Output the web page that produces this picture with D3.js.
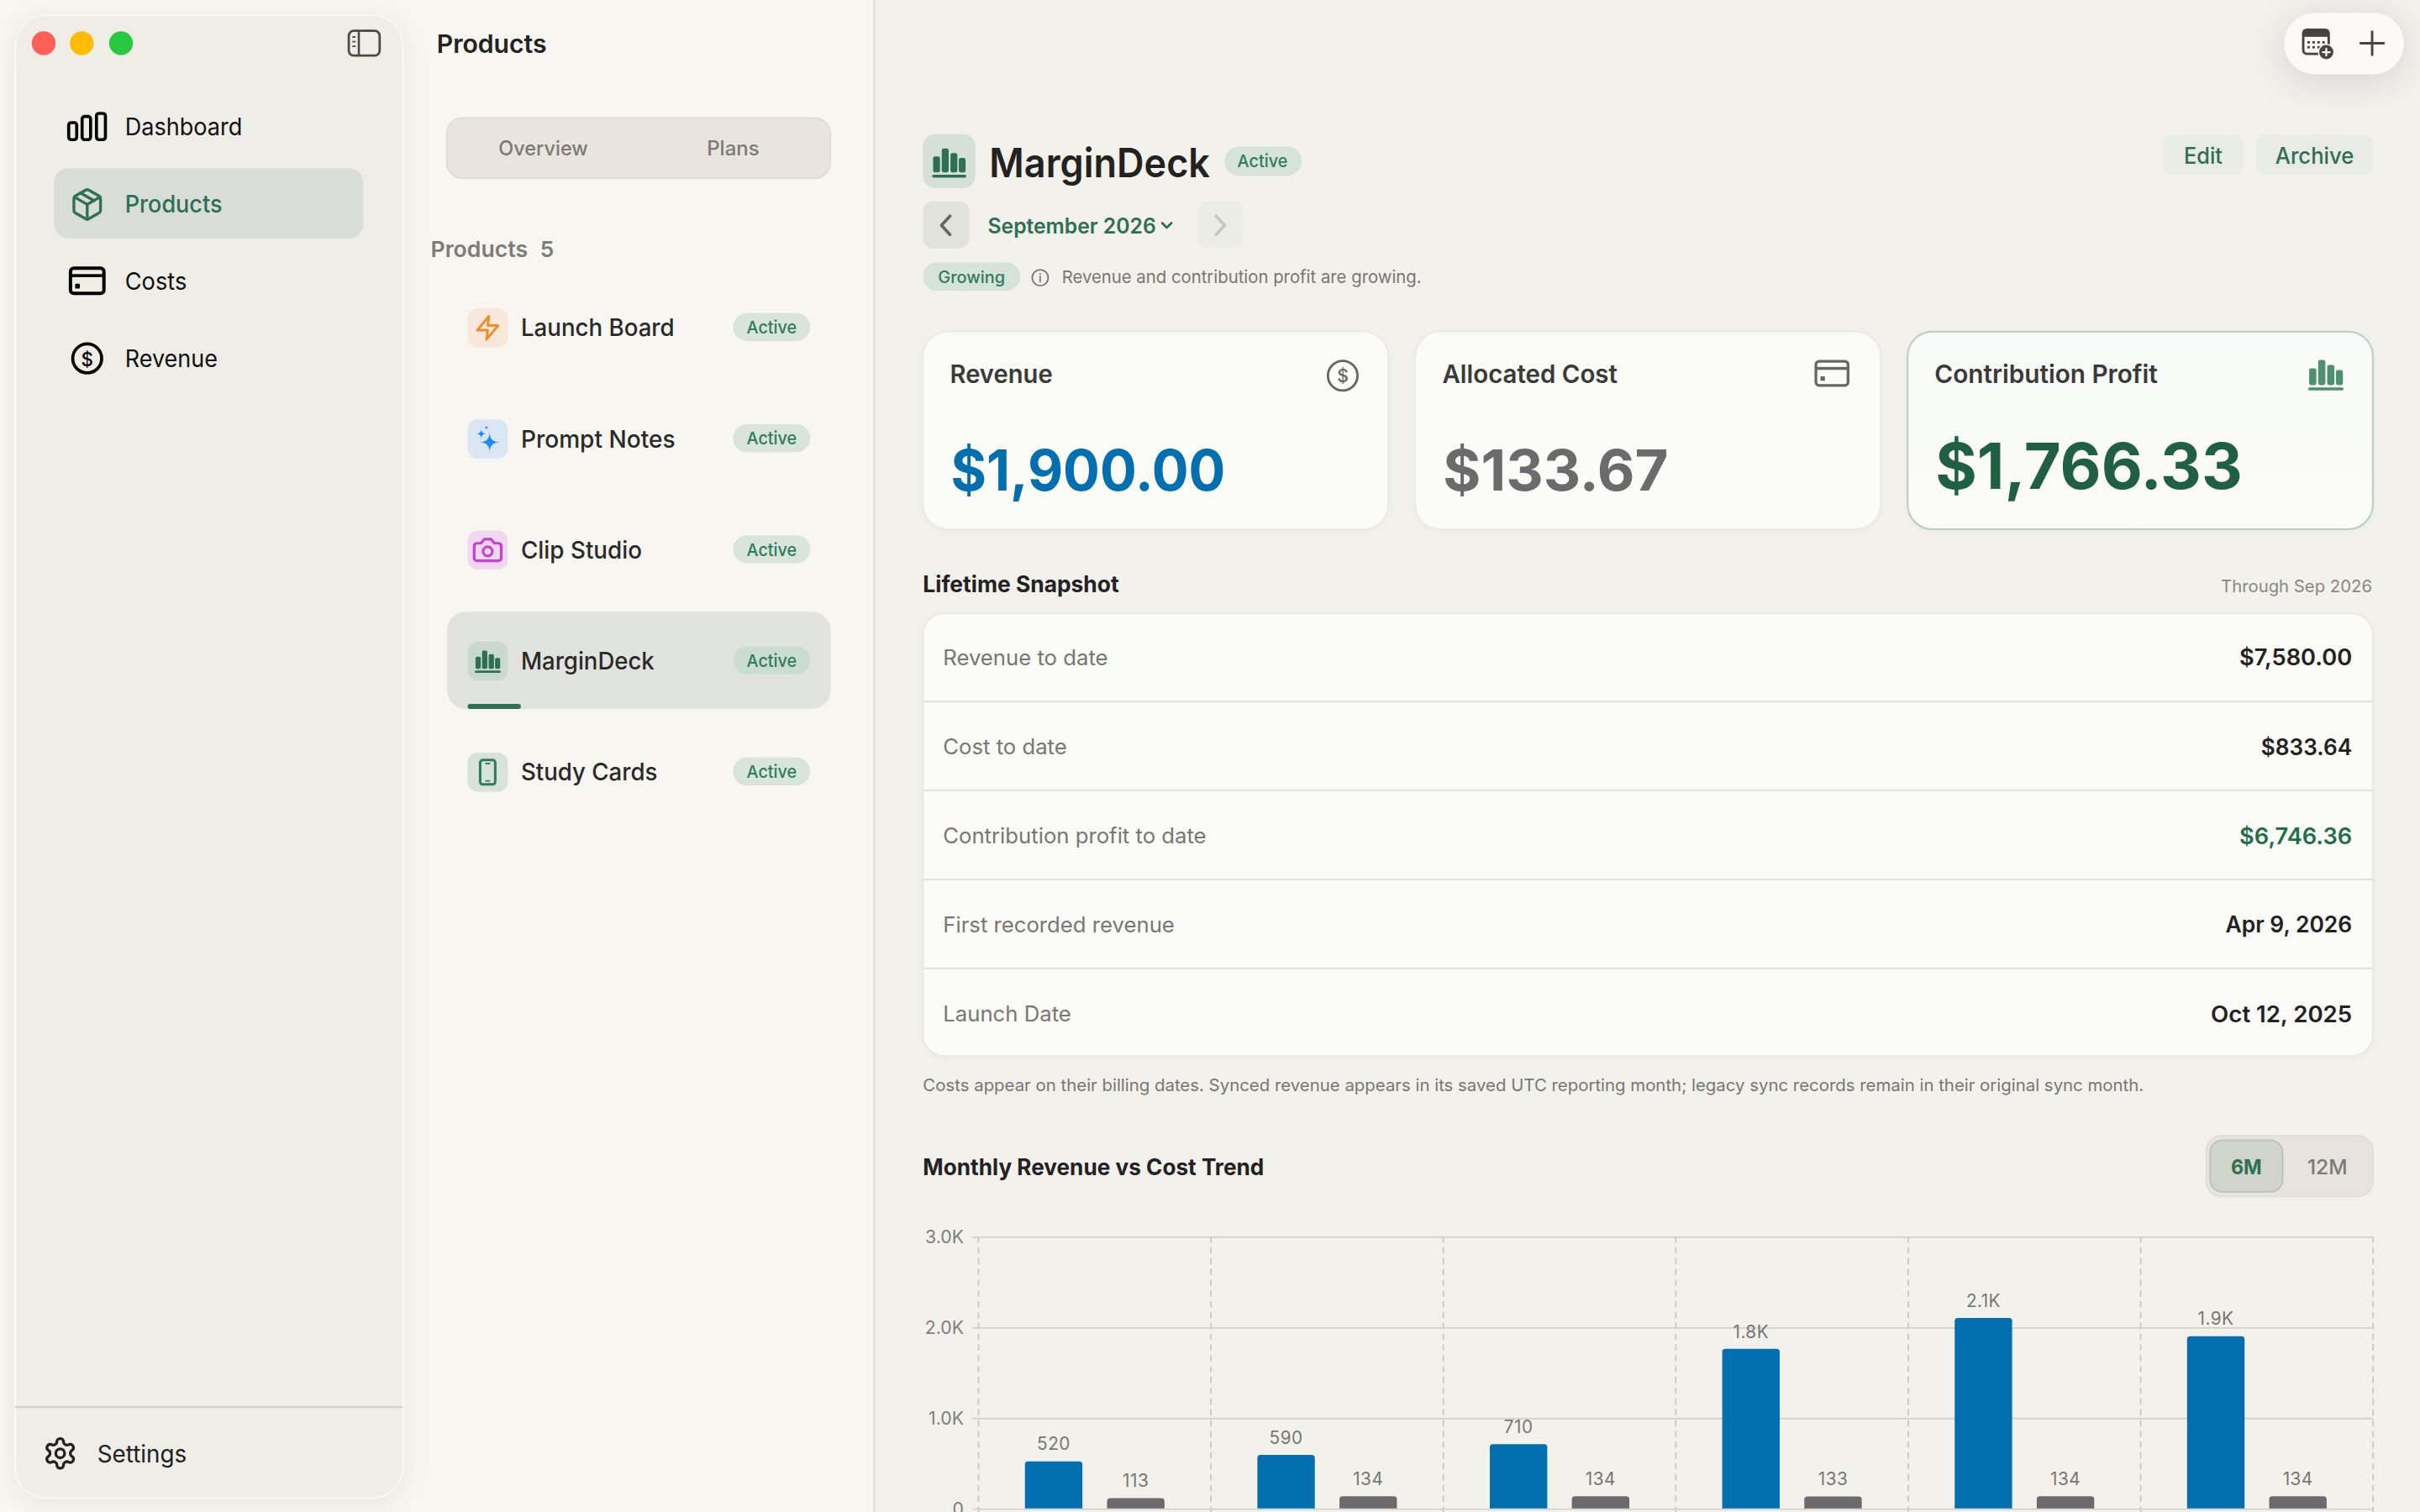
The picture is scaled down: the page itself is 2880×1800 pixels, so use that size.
<!DOCTYPE html>
<html><head><meta charset="utf-8">
<style>html,body{margin:0;padding:0;background:#f7f6f0;overflow:hidden}svg{display:block}text{font-family:Inter,"Noto Sans",sans-serif}</style>
<script src="https://cdn.jsdelivr.net/npm/d3@7"></script>
</head><body>
<script>
// ---- chart data ----
const months = ["Apr","May","Jun","Jul","Aug","Sep"];
const seriesNames = ["Revenue","Cost"];
const revenue = [520,590,710,1760,2100,1900];
const cost = [113,134,134,133,134,134];
const yTicks = [0,1000,2000,3000];
// ---- page text ----
const navItems = ["Dashboard","Products","Costs","Revenue"];
const navWidths = [76,63,40,60];
const products = ["Launch Board","Prompt Notes","Clip Studio","MarginDeck","Study Cards"];
const productWidths = [99.5,100,78.5,86.5,88.5];
const snapshotLabels = ["Revenue to date","Cost to date","Contribution profit to date","First recorded revenue","Launch Date"];
const snapshotValues = ["$7,580.00","$833.64","$6,746.36","Apr 9, 2026","Oct 12, 2025"];
const snapshotWidths = [73,59,73,82,91.5];
const cardTitles = ["Revenue","Allocated Cost","Contribution Profit"];
const cardValues = ["$1,900.00","$133.67","$1,766.33"];
const cardTitleWidths = [66.5,113.5,144.5];
const cardValueWidths = [178,146,199];

const C={rev:"#0270b0",cost:"#6b6b6d",green:"#2f6f52",greenT:"#2f7d5b",dark:"#222220",mut:"#777773"};
const svg=d3.select("body").append("svg").attr("width",2880).attr("height",1800).attr("viewBox","0 0 1568 980");
const defs=svg.append("defs");
function shadow(id,dy,sd,op){defs.append("filter").attr("id",id).attr("x","-40%").attr("y","-60%").attr("width","180%").attr("height","220%")
  .append("feDropShadow").attr("dx",0).attr("dy",dy).attr("stdDeviation",sd).attr("flood-color","#000").attr("flood-opacity",op);}
shadow("sideS",3,8,.07);shadow("toolS",4,12,.13);shadow("cardS",1,2,.03);
const g3=defs.append("linearGradient").attr("id","g3").attr("x1",0).attr("x2",0).attr("y1",0).attr("y2",1);
g3.append("stop").attr("offset","0").attr("stop-color","#f8fbf9");g3.append("stop").attr("offset","1").attr("stop-color","#fbfbf8");

function r(x,y,w,h,rx,fill,stroke,sw){const e=svg.append("rect").attr("x",x).attr("y",y).attr("width",w).attr("height",h).attr("rx",rx).attr("fill",fill);
  if(stroke)e.attr("stroke",stroke).attr("stroke-width",sw||1);return e;}
function t(x,y,s,size,weight,fill,anchor,w){const e=svg.append("text").attr("x",x).attr("y",y).attr("dominant-baseline","central").attr("font-size",size).attr("font-weight",weight).attr("fill",fill).attr("text-anchor",anchor||"start").text(s);
  if(w)e.attr("textLength",w).attr("lengthAdjust","spacingAndGlyphs");return e;}
function ic(cx,cy,size,fn){const g=svg.append("g").attr("transform",`translate(${cx-size/2},${cy-size/2}) scale(${size/24})`);fn(g);return g;}
const P=(g,d,col,sw)=>g.append("path").attr("d",d).attr("fill","none").attr("stroke",col).attr("stroke-width",sw).attr("stroke-linecap","round").attr("stroke-linejoin","round");
const F=(g,d,col)=>g.append("path").attr("d",d).attr("fill",col);
const star=(x,y,a)=>`M${x},${y-a}Q${x},${y} ${x+a},${y}Q${x},${y} ${x},${y+a}Q${x},${y} ${x-a},${y}Q${x},${y} ${x},${y-a}Z`;
function barsIcon(col){return g=>{[[2,9,4.3],[7.4,4,4.3],[12.8,7,4.3],[18,10,4.2]].forEach(b=>g.append("rect").attr("x",b[0]).attr("y",b[1]).attr("width",b[2]).attr("height",19-b[1]).attr("rx",1.2).attr("fill",col));
  g.append("rect").attr("x",1.4).attr("y",20.4).attr("width",21.2).attr("height",1.8).attr("rx",.9).attr("fill",col);}}
function cardIcon(col,sw){return g=>{g.append("rect").attr("x",2).attr("y",4.5).attr("width",20).attr("height",15).attr("rx",2).attr("fill","none").attr("stroke",col).attr("stroke-width",sw);
  g.append("rect").attr("x",2).attr("y",8).attr("width",20).attr("height",1.8).attr("fill",col);g.append("rect").attr("x",4.8).attr("y",13.8).attr("width",2.8).attr("height",2.8).attr("rx",.4).attr("fill",col);}}
function dollarIcon(col,sw,fs){return g=>{g.append("circle").attr("cx",12).attr("cy",12).attr("r",10).attr("fill","none").attr("stroke",col).attr("stroke-width",sw);
  g.append("text").attr("x",12).attr("y",12.3).attr("text-anchor","middle").attr("dominant-baseline","central").attr("font-size",fs).attr("font-weight",500).attr("fill",col).text("$");}}

// ---- background & panels ----
r(0,0,1568,980,0,"#f7f6f0");
r(10,10,251,961,20,"#eeede6","#f8f8f3",1).attr("filter","url(#sideS)");
svg.append("line").attr("x1",10).attr("x2",261).attr("y1",912).attr("y2",912).attr("stroke","#d3d3ce").attr("stroke-width",1.2);
r(566.5,0,1001.5,980,0,"#f2f1ec");
svg.append("line").attr("x1",566.5).attr("x2",566.5).attr("y1",0).attr("y2",980).attr("stroke","#dcdbd6").attr("stroke-width",1.2);

// traffic lights
[["#ff5f57",28.3],["#febc00",53],["#28c840",78.4]].forEach(d=>svg.append("circle").attr("cx",d[1]).attr("cy",28).attr("r",7.7).attr("fill",d[0]));
// sidebar toggle
r(226,20,20,16,3.2,"none","#4a4a48",1.5);
svg.append("line").attr("x1",232.5).attr("x2",232.5).attr("y1",20).attr("y2",36).attr("stroke","#4a4a48").attr("stroke-width",1.4);
[24,27,30].forEach(y=>svg.append("line").attr("x1",228.3).attr("x2",230.4).attr("y1",y).attr("y2",y).attr("stroke","#4a4a48").attr("stroke-width",1));

// nav
r(35,109,200.5,45.5,9.5,"#d8ded7");
const navY=[82,132,182,232];
navItems.forEach((n,i)=>t(81,navY[i],n,15.6,i==1?450:420,i==1?C.green:"#111",null,navWidths[i]));
svg.append("g").call(g=>{[[44.5,79.5,5.2,11],[53.2,75.5,5.5,15],[62.5,73.5,5.8,17]].forEach(b=>g.append("rect").attr("x",b[0]).attr("y",b[1]).attr("width",b[2]).attr("height",b[3]).attr("rx",1.6).attr("fill","none").attr("stroke","#000").attr("stroke-width",2));});
ic(56.5,132.5,23,g=>{["M21 8a2 2 0 0 0-1-1.73l-7-4a2 2 0 0 0-2 0l-7 4A2 2 0 0 0 3 8v8a2 2 0 0 0 1 1.73l7 4a2 2 0 0 0 2 0l7-4A2 2 0 0 0 21 16Z","m3.3 7 8.7 5 8.7-5","M12 22V12","m7.5 4.27 9 5.15"].forEach(d=>P(g,d,C.green,1.9));});
ic(56.5,182,26,cardIcon("#000",2));
ic(56.5,232.3,22.5,dollarIcon("#000",2.2,13));
t(63,942.3,"Settings",15.4,420,"#222",null,58);
ic(39,942,23,g=>{P(g,"M12.22 2h-.44a2 2 0 0 0-2 2v.18a2 2 0 0 1-1 1.73l-.43.25a2 2 0 0 1-2 0l-.15-.08a2 2 0 0 0-2.73.73l-.22.38a2 2 0 0 0 .73 2.73l.15.1a2 2 0 0 1 1 1.72v.51a2 2 0 0 1-1 1.74l-.15.09a2 2 0 0 0-.73 2.73l.22.38a2 2 0 0 0 2.73.73l.15-.08a2 2 0 0 1 2 0l.43.25a2 2 0 0 1 1 1.73V20a2 2 0 0 0 2 2h.44a2 2 0 0 0 2-2v-.18a2 2 0 0 1 1-1.73l.43-.25a2 2 0 0 1 2 0l.15.08a2 2 0 0 0 2.73-.73l.22-.39a2 2 0 0 0-.73-2.73l-.15-.08a2 2 0 0 1-1-1.74v-.5a2 2 0 0 1 1-1.74l.15-.09a2 2 0 0 0 .73-2.73l-.22-.38a2 2 0 0 0-2.73-.73l-.15.08a2 2 0 0 1-2 0l-.43-.25a2 2 0 0 1-1-1.73V4a2 2 0 0 0-2-2z","#222",1.9);g.append("circle").attr("cx",12).attr("cy",12).attr("r",3).attr("fill","none").attr("stroke","#222").attr("stroke-width",1.9);});

// middle column
t(283,28.5,"Products",16.4,600,"#222");
r(289.5,76.5,248.5,39,10,"#e9e4dd","#e2ddd4",1);
t(352,96,"Overview",13,500,"#7a7a76","middle",58);
t(475,96,"Plans",13,500,"#7a7a76","middle",34);
t(279,161.5,"Products",14.3,600,"#7c7c78",null,63);
t(350,161.5,"5",14.3,600,"#7c7c78");

const itemY=[212.5,284.5,356.5,428.5,500.5];
r(289.7,396.5,248.5,63,12,"#e1e4de");
r(303,456.2,34.5,3.3,1.6,C.green);
const tileFill=["#f9e7d9","#dbe6f3","#f0d9ef","#c9d9cf","#d6e2da"];
const badgeFill=["#d9e4db","#d9e4db","#d9e4db","#cbdcd0","#d9e4db"];
products.forEach((p,i)=>{const y=itemY[i];
  r(303,y-12.7,26,25.4,6.5,tileFill[i]);
  t(337.5,y-.3,p,15.7,500,"#2a2a28",null,productWidths[i]);
  r(475,y-9.5,50,18,9,badgeFill[i]);
  t(500,y-.4,"Active",11.3,500,C.greenT,"middle",32.5);
});
ic(316,212.5,18,g=>P(g,"M13 2 3 14h9l-1 8 10-12h-9l1-8z","#f28c28",2.1));
ic(316,284.5,20,g=>{F(g,star(13.5,14.5,8),"#1a8cff");F(g,star(7,8,3.8),"#1a8cff");F(g,star(11,3.2,1.8),"#1a8cff");});
ic(316,356.5,21,g=>{P(g,"M14.5 4h-5L7 7H4a2 2 0 0 0-2 2v9a2 2 0 0 0 2 2h16a2 2 0 0 0 2-2V9a2 2 0 0 0-2-2h-3l-2.5-3z","#c93fd6",2);g.append("circle").attr("cx",12).attr("cy",13).attr("r",3.4).attr("fill","none").attr("stroke","#c93fd6").attr("stroke-width",2);});
ic(316,428,19,barsIcon(C.green));
ic(316,500.5,18,g=>{g.append("rect").attr("x",5.5).attr("y",1.5).attr("width",13).attr("height",21).attr("rx",2.2).attr("fill","none").attr("stroke",C.greenT).attr("stroke-width",2.2);P(g,"M10.5 4.5h3M10.5 19.5h3",C.greenT,1.4);});

// toolbar pill
r(1480,8.5,77.5,39.5,19.7,"#fbfaf6").attr("filter","url(#toolS)");
ic(1501.5,28,22,g=>{g.append("rect").attr("x",2).attr("y",2.5).attr("width",18).attr("height",17).attr("rx",2.5).attr("fill","none").attr("stroke","#444442").attr("stroke-width",1.7);
  g.append("rect").attr("x",2).attr("y",2.5).attr("width",18).attr("height",5).attr("fill","#444442");
  [5,8.5,12,15.5].forEach(x=>[10.5,14].forEach(y=>g.append("rect").attr("x",x).attr("y",y).attr("width",1.7).attr("height",1.7).attr("fill","#444442")));
  g.append("circle").attr("cx",18.3).attr("cy",18.3).attr("r",5.9).attr("fill","#fbfaf6");
  g.append("circle").attr("cx",18.3).attr("cy",18.3).attr("r",5).attr("fill","#444442");P(g,"M18.3 15.8v5M15.8 18.3h5","#fbfaf6",1.3);});
ic(1537,28,20,g=>P(g,"M12 3v18M3 12h18","#444442",1.9));

// product header
r(598,87,34,35,8,"#d5e0d8");
ic(615,104.5,25,barsIcon(C.green));
t(641,105.5,"MarginDeck",26,600,"#222220",null,143);
r(793.5,95,50,19,9.5,"#d5e3d9");
t(818,104.5,"Active",11.3,500,C.greenT,"middle",32.5);
r(1401.5,87,52,26.5,6.5,"#e9ebe5");
t(1427.5,100.5,"Edit",14.5,500,C.green,"middle",25);
r(1462,87,75.5,26.5,6.5,"#e9ebe5");
t(1499.7,100.5,"Archive",14.5,500,C.green,"middle",51);
r(598,130.5,30,30.5,6.5,"#e2e2dd");
P(svg.append("g"),"M615.5 140l-5.5 6 5.5 6","#666663",2);
t(640,146,"September 2026",13.8,600,C.green,null,109);
P(svg.append("g"),"M753 144.5l3 3 3-3",C.green,1.5);
r(776,130.5,29.5,30.5,6.5,"#ecece7");
P(svg.append("g"),"M788 140l5.5 6-5.5 6","#c6c6c1",2);
r(598,170,63,18.5,9.2,"#d5e3d9");
t(629.5,179.5,"Growing",11,500,C.greenT,"middle",43.5);
svg.append("circle").attr("cx",674).attr("cy",180).attr("r",5.2).attr("fill","none").attr("stroke","#777").attr("stroke-width",1);
t(674,180,"i",8,500,"#777","middle");
t(688,179.5,"Revenue and contribution profit are growing.",11.2,400,C.mut,null,233);

// metric cards
const cardX=[598,917,1236];
const cardCol=[C.rev,C.cost,"#1f5f43"];
cardX.forEach((x,i)=>{
  const e=r(x,215,301.5,128,16,i==2?"url(#g3)":"#fbfbf8",i==2?"#bdd0c5":"#ebebe6",i==2?1.2:1);e.attr("filter","url(#cardS)");
  t(x+17.5,242.5,cardTitles[i],16.4,600,"#3a3a38",null,cardTitleWidths[i]);
  t(x+18,i==2?302:304.5,cardValues[i],i==2?41:37,700,cardCol[i],null,cardValueWidths[i]);
});
ic(870,243.5,23,dollarIcon("#666",1.6,12));
ic(1187,242,25,cardIcon("#666",1.7));
ic(1507,242,26,barsIcon("#4f8f70"));

// lifetime snapshot
t(598,378.5,"Lifetime Snapshot",14.5,700,"#222",null,127);
t(1537,379.5,"Through Sep 2026",11,400,"#888884","end",98);
r(598,397.5,939.5,287,14,"#fbfbf8","#e8e8e3",1).attr("filter","url(#cardS)");
const rowY=[426,484,541.5,599,657];
const sepY=[454.7,512.3,570,627.7];
sepY.forEach(y=>svg.append("line").attr("x1",598).attr("x2",1537.5).attr("y1",y).attr("y2",y).attr("stroke","#e3e3de").attr("stroke-width",1.2));
snapshotLabels.forEach((s,i)=>{t(611,rowY[i],s,14,400,C.mut);
  t(1524,rowY[i],snapshotValues[i],14.5,600,i==2?"#1f6f4a":"#222","end",snapshotWidths[i]);});
t(598,703,"Costs appear on their billing dates. Synced revenue appears in its saved UTC reporting month; legacy sync records remain in their original sync month.",11,400,C.mut,null,791);

// trend header
t(598,756.5,"Monthly Revenue vs Cost Trend",14.5,700,"#222",null,221);
r(1429.5,736,108,39.5,10,"#e8e4dd","#e2ddd4",1);
r(1432,739,47,33.5,8,"#d0d4cb","#b8c4ba",1);
t(1455.5,756,"6M",13.5,700,C.green,"middle",20);
t(1508,756,"12M",13.5,500,"#7a7a76","middle",26);

// ---- chart ----
const x0=d3.scaleBand().domain(months).range([634,1537.6]);
const x1=d3.scaleBand().domain(seriesNames).range([0,x0.bandwidth()]).paddingInner(.3).paddingOuter(.566);
const y=d3.scaleLinear().domain([0,3000]).range([977.7,801.4]);
const fmt=v=>v>=1000?(v/1000).toFixed(1)+"K":String(v);
const chart=svg.append("g");
chart.append("g").selectAll("line").data(months.map(m=>x0(m)).concat([x0.range()[1]])).join("line")
  .attr("x1",d=>d).attr("x2",d=>d).attr("y1",y(3000)).attr("y2",y(0)+3)
  .attr("stroke","#c9c9c4").attr("stroke-width",1).attr("stroke-dasharray","4 3");
const ax=chart.append("g").attr("transform","translate(634,0)").call(d3.axisLeft(y).tickValues(yTicks).tickFormat(fmt).tickSize(-903.6).tickPadding(9.5));
ax.select(".domain").remove();
ax.selectAll(".tick line").attr("x1",-4).attr("stroke","#d2d2cc").attr("stroke-width",1);
ax.selectAll("text").attr("font-size",11.6).attr("font-family","Inter").attr("fill","#7f7f7b").attr("dy",".32em");
function topRound(x,yT,w,h,rad){return `M${x},${yT+h}V${yT+rad}Q${x},${yT} ${x+rad},${yT}H${x+w-rad}Q${x+w},${yT} ${x+w},${yT+rad}V${yT+h}Z`;}
[[revenue,"Revenue",C.rev],[cost,"Cost",C.cost]].forEach(([vals,name,col])=>{
  const g=chart.append("g");
  g.selectAll("path").data(vals).join("path")
    .attr("d",(d,i)=>topRound(x0(months[i])+x1(name),y(d),x1.bandwidth(),y(0)-y(d),2)).attr("fill",col);
  g.selectAll("text").data(vals).join("text")
    .attr("x",(d,i)=>x0(months[i])+x1(name)+x1.bandwidth()/2).attr("y",d=>y(d)-11.3)
    .attr("text-anchor","middle").attr("dominant-baseline","central")
    .attr("font-size",11.3).attr("fill","#777773").attr("letter-spacing",.25).text(fmt);
});
</script>
</body></html>
